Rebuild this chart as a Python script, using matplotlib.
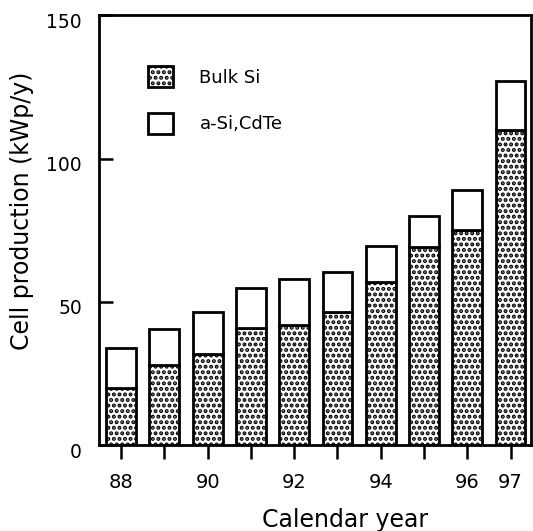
import matplotlib
matplotlib.use("Agg")
import matplotlib.pyplot as plt
import matplotlib.transforms as mtransforms
from matplotlib.patches import Patch
import numpy as np

# values (kWp/y)
years = [88, 89, 90, 91, 92, 93, 94, 95, 96, 97]
bulk_si = [20, 28, 32, 41, 42, 46.5, 57, 69, 75, 110]
thin_film = [14, 12.5, 14.5, 14, 16, 14, 12.5, 11, 14, 17]
year_labels = ["88", "", "90", "", "92", "", "94", "", "96", "97"]
y_ticks = [0, 50, 100, 150]

plt.rcParams['font.family'] = ['DejaVu Sans']
plt.rcParams['hatch.linewidth'] = 2.0
plt.rcParams['hatch.color'] = 'black'

fig = plt.figure(figsize=(5.33, 5.31), dpi=100)
ax = fig.add_axes([0.185, 0.1614, 0.811, 0.8098])

ax.bar(years, bulk_si, width=0.69, color='white', edgecolor='black',
       linewidth=2, hatch='...', label='Bulk Si')
ax.bar(years, thin_film, bottom=bulk_si, width=0.69, color='white',
       edgecolor='black', linewidth=2, label='a-Si,CdTe')

ax.set_xlim(87.48, 97.47)
ax.set_ylim(0, 150)

for s in ax.spines.values():
    s.set_linewidth(2)

ax.set_xticks(years)
ax.set_xticklabels(year_labels, fontsize=14)
ax.set_yticks(y_ticks)
ax.set_yticklabels([str(t) for t in y_ticks], fontsize=13.5)
ax.tick_params(axis='x', direction='out', length=10, width=1.8, pad=10)
ax.tick_params(axis='y', direction='in', length=10, width=1.8, pad=12)

# y labels sit a bit below their ticks in the original
offset = mtransforms.ScaledTranslation(0, -0.05, fig.dpi_scale_trans)
for lab in ax.get_yticklabels():
    lab.set_transform(lab.get_transform() + offset)

ax.set_xlabel('Calendar year', fontsize=17)
ax.set_ylabel('Cell production (kWp/y)', fontsize=17)
ax.xaxis.set_label_coords(0.569, -0.146)
ax.yaxis.set_label_coords(-0.149, 0.545)

handles = [Patch(facecolor='white', edgecolor='black', linewidth=2, hatch='...'),
           Patch(facecolor='white', edgecolor='black', linewidth=2)]
ax.legend(handles, ['Bulk Si', 'a-Si,CdTe'], loc='upper left',
          bbox_to_anchor=(148 / 533, 1 - 66 / 531), bbox_transform=fig.transFigure,
          frameon=False, fontsize=13, borderpad=0, borderaxespad=0,
          handlelength=1.4, handleheight=1.45, handletextpad=1.45,
          labelspacing=1.4)

fig.savefig('out.png', dpi=100)
